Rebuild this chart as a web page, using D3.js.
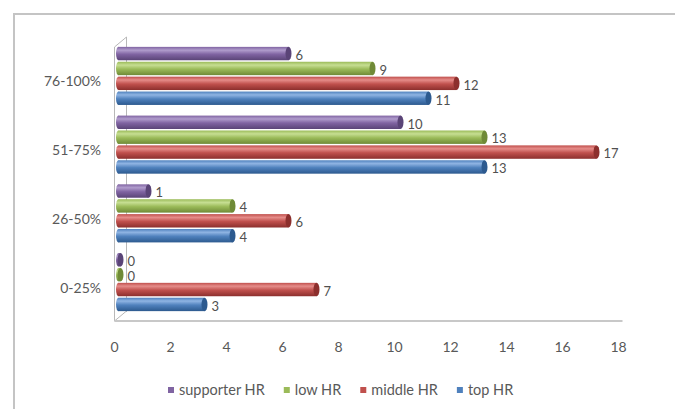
<!DOCTYPE html>
<html>
<head>
<meta charset="utf-8">
<script src="https://cdn.jsdelivr.net/npm/d3@7"></script>
<style>
  body { margin: 0; background: #fff; }
  text { font-family: Lato, "Noto Sans", sans-serif; }
</style>
</head>
<body>
<script>
// chart data
const categories = ["0-25%", "26-50%", "51-75%", "76-100%"];
const seriesNames = ["supporter HR", "low HR", "middle HR", "top HR"];
const supporterHR = [0, 1, 10, 6];
const lowHR = [0, 4, 13, 9];
const middleHR = [7, 6, 17, 12];
const topHR = [3, 4, 13, 11];
const xTicks = [0, 2, 4, 6, 8, 10, 12, 14, 16, 18];

const seriesValues = [supporterHR, lowHR, middleHR, topHR];
const palette = {
    "supporter HR": ["#b09ccc", "#8064a2", "#5a4477"],
    "low HR": ["#c6de92", "#9bbb59", "#6f8a37"],
    "middle HR": ["#e58c89", "#c0504d", "#8c2f2d"],
    "top HR": ["#8fb4e3", "#4f81bd", "#2d5a8f"]
};

const width = 675, height = 409;

const svg = d3.select("body").append("svg")
    .attr("width", width)
    .attr("height", height);

// gradients for cylinder look
const defs = svg.append("defs");
seriesNames.forEach(function(s, i) {
    const g = defs.append("linearGradient")
        .attr("id", "grad" + i)
        .attr("x1", 0).attr("y1", 0).attr("x2", 0).attr("y2", 1);
    g.append("stop").attr("offset", "0%").attr("stop-color", palette[s][1]);
    g.append("stop").attr("offset", "25%").attr("stop-color", palette[s][0]);
    g.append("stop").attr("offset", "55%").attr("stop-color", palette[s][1]);
    g.append("stop").attr("offset", "100%").attr("stop-color", palette[s][2]);
});

// outer chart frame
svg.append("rect")
    .attr("x", 14).attr("y", 14)
    .attr("width", 720).attr("height", 440)
    .attr("fill", "none")
    .attr("stroke", "#c4c4c4")
    .attr("stroke-width", 2);

const xScale = d3.scaleLinear().domain([0, 18]).range([114.5, 618.5]);

const yScale = d3.scaleBand()
    .domain(categories.slice().reverse())
    .range([40, 318])
    .paddingInner(0.155)
    .paddingOuter(0.1);

const inner = d3.scaleBand()
    .domain(seriesNames)
    .range([0, yScale.bandwidth()])
    .paddingInner(0.1);

// 3D wall / floor edges
const x0 = xScale(0);
svg.append("path")
    .attr("d", "M" + x0 + ",321 L" + x0 + ",47 L" + (x0 + 12) + ",37 L" + (x0 + 12) + ",312")
    .attr("fill", "none")
    .attr("stroke", "#b8b8b8")
    .attr("stroke-width", 1);
svg.append("path")
    .attr("d", "M" + x0 + ",321 L" + (x0 + 12) + ",311")
    .attr("fill", "none")
    .attr("stroke", "#b8b8b8");
svg.append("line")
    .attr("x1", x0).attr("x2", xScale(18) + 4)
    .attr("y1", 321).attr("y2", 321)
    .attr("stroke", "#c8c8c8")
    .attr("stroke-width", 2);

// bars
const rows = [];
categories.forEach(function(c, ci) {
    seriesNames.forEach(function(s, si) {
        rows.push({cat: c, series: s, si: si, value: seriesValues[si][ci]});
    });
});

const bars = svg.append("g").selectAll("g")
    .data(rows)
    .enter().append("g")
    .attr("transform", function(d) {
        return "translate(0," + (yScale(d.cat) + inner(d.series)) + ")";
    });

const bh = inner.bandwidth();

bars.append("rect")
    .attr("x", x0 + 4)
    .attr("y", 0)
    .attr("width", function(d) { return Math.max(0, xScale(d.value) + 6 - (x0 + 4)); })
    .attr("height", bh)
    .attr("fill", function(d) { return "url(#grad" + d.si + ")"; });

bars.append("ellipse")
    .attr("cx", x0 + 4)
    .attr("cy", bh / 2)
    .attr("rx", 2.5)
    .attr("ry", bh / 2)
    .attr("fill", function(d) { return "url(#grad" + d.si + ")"; });

bars.append("ellipse")
    .attr("cx", function(d) { return xScale(d.value) + 6; })
    .attr("cy", bh / 2)
    .attr("rx", 3)
    .attr("ry", bh / 2)
    .attr("fill", function(d) { return palette[d.series][2]; });

bars.append("text")
    .attr("x", function(d) { return xScale(d.value) + 13; })
    .attr("y", bh / 2 + 3)
    .attr("dominant-baseline", "middle")
    .attr("font-size", 13)
    .attr("fill", "#505050")
    .text(function(d) { return d.value; });

// category labels
svg.append("g").selectAll("text")
    .data(categories)
    .enter().append("text")
    .attr("x", 101)
    .attr("y", function(d) { return yScale(d) + yScale.bandwidth() / 2 + 7; })
    .attr("text-anchor", "end")
    .attr("dominant-baseline", "middle")
    .attr("font-size", 14)
    .attr("fill", "#595959")
    .text(function(d) { return d; });

// x tick labels
svg.append("g").selectAll("text")
    .data(xTicks)
    .enter().append("text")
    .attr("x", function(d) { return xScale(d); })
    .attr("y", 348)
    .attr("text-anchor", "middle")
    .attr("dominant-baseline", "middle")
    .attr("font-size", 14)
    .attr("fill", "#595959")
    .text(function(d) { return d; });

// legend
const legend = svg.append("g");
let lx = 168;
seriesNames.forEach(function(s) {
    legend.append("rect")
        .attr("x", lx).attr("y", 387)
        .attr("width", 6).attr("height", 6)
        .attr("fill", palette[s][1]);
    const t = legend.append("text")
        .attr("x", lx + 11)
        .attr("y", 391)
        .attr("dominant-baseline", "middle")
        .attr("font-size", 14.5)
        .attr("fill", "#595959")
        .text(s);
    lx += 11 + t.node().getComputedTextLength() + 19;
});
</script>
</body>
</html>
